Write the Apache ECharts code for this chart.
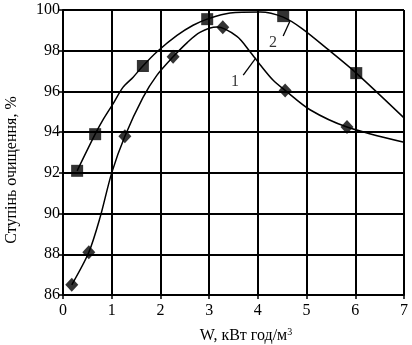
<!DOCTYPE html>
<html>
<head>
<meta charset="utf-8">
<script src="https://cdn.jsdelivr.net/npm/echarts@6/dist/echarts.min.js"></script>
<style>
  html, body { margin: 0; padding: 0; background: #fff; }
  #main { width: 412px; height: 345px; }
</style>
</head>
<body>
<div id="main"></div>
<script>
// measured points (W, %)
var s1_x = [0.18, 0.53, 1.27, 2.26, 3.28, 4.56, 5.83];
var s1_y = [86.5, 88.1, 93.8, 97.7, 99.15, 96.05, 94.25];
var s2_x = [0.29, 0.66, 1.64, 2.96, 4.52, 6.02];
var s2_y = [92.1, 93.9, 97.25, 99.55, 99.7, 96.9];

// fitted curves
var c1_x = [0.18, 0.53, 0.76, 1.0, 1.27, 1.64, 1.93, 2.26, 2.55, 2.81, 3.16, 3.57, 3.84, 4.05, 4.31, 4.56, 5.07, 5.83, 7.0];
var c1_y = [86.5, 88.1, 89.8, 92.0, 93.8, 95.7, 96.8, 97.7, 98.4, 98.9, 99.16, 98.7, 97.95, 97.3, 96.56, 96.05, 95.1, 94.25, 93.5];
var c2_x = [0.29, 0.66, 0.82, 1.03, 1.23, 1.44, 1.64, 1.93, 2.34, 2.67, 2.96, 3.43, 4.05, 4.52, 4.9, 5.42, 6.02, 7.0];
var c2_y = [92.1, 93.9, 94.6, 95.4, 96.2, 96.7, 97.25, 97.95, 98.75, 99.25, 99.55, 99.85, 99.9, 99.65, 99.1, 98.1, 96.9, 94.7];

var xTicks = [0, 1, 2, 3, 4, 5, 6, 7];
var yTicks = [86, 88, 90, 92, 94, 96, 98, 100];

// curve labels and their leader lines
var lab1 = { text: '1', at: [3.53, 96.45], from: [3.70, 96.8], to: [3.96, 97.65] };
var lab2 = { text: '2', at: [4.31, 98.4], from: [4.52, 98.72], to: [4.66, 99.46] };

function zip(xs, ys) {
    var out = [];
    for (var i = 0; i < xs.length; i++) out.push([xs[i], ys[i]]);
    return out;
}

var font = 'Liberation Serif';
var chart = echarts.init(document.getElementById('main'));

function leader(l) {
    return {
        type: 'line',
        data: [l.from, l.to],
        symbol: 'none',
        silent: true,
        lineStyle: { color: '#000', width: 1.3 },
        z: 3
    };
}
function labelMark(l) {
    return {
        type: 'scatter',
        data: [l.at],
        symbolSize: 0,
        silent: true,
        label: {
            show: true, position: 'inside', formatter: l.text,
            color: '#000', fontFamily: font, fontSize: 16
        }
    };
}

var option = {
    animation: false,
    backgroundColor: '#fff',
    grid: { left: 63, right: 8, top: 10, bottom: 50 },
    xAxis: {
        type: 'value', min: xTicks[0], max: xTicks[xTicks.length - 1], interval: 1,
        axisLine: { show: true, onZero: false, lineStyle: { color: '#000', width: 2 } },
        axisTick: { show: true, length: 4, lineStyle: { color: '#000', width: 1.5 } },
        splitLine: { show: true, lineStyle: { color: '#000', width: 2 } },
        axisLabel: { color: '#000', fontFamily: font, fontSize: 16, margin: 8 }
    },
    yAxis: {
        type: 'value', min: yTicks[0], max: yTicks[yTicks.length - 1], interval: 2,
        axisLine: { show: true, onZero: false, lineStyle: { color: '#000', width: 2 } },
        axisTick: { show: true, length: 4, lineStyle: { color: '#000', width: 1.5 } },
        splitLine: { show: true, lineStyle: { color: '#000', width: 2 } },
        axisLabel: { color: '#000', fontFamily: font, fontSize: 16, margin: 3 }
    },
    graphic: [
        {
            type: 'text', x: 12, y: 170, rotation: Math.PI / 2,
            style: {
                text: 'Ступінь очищення, %', fill: '#000',
                font: '16px "Liberation Serif"', align: 'center', verticalAlign: 'middle'
            }
        },
        {
            type: 'text', x: 246, y: 336,
            style: {
                text: 'W, кВт год/м{s|3}', fill: '#000',
                font: '16px "Liberation Serif"', align: 'center', verticalAlign: 'middle',
                rich: { s: { fontSize: 10, fontFamily: font, verticalAlign: 'top', padding: [0, 0, 8, 0] } }
            }
        }
    ],
    series: [
        {
            type: 'line', data: zip(c1_x, c1_y), smooth: 0.3, symbol: 'none',
            lineStyle: { color: '#000', width: 1.5 }, z: 3
        },
        {
            type: 'line', data: zip(c2_x, c2_y), smooth: 0.3, symbol: 'none',
            lineStyle: { color: '#000', width: 1.5 }, z: 3
        },
        {
            type: 'scatter', data: zip(s1_x, s1_y), symbol: 'diamond', symbolSize: [13, 14],
            itemStyle: { color: '#000' }, z: 4
        },
        {
            type: 'scatter', data: zip(s2_x, s2_y), symbol: 'rect', symbolSize: 12,
            itemStyle: { color: '#000' }, z: 4
        },
        leader(lab1), leader(lab2), labelMark(lab1), labelMark(lab2)
    ]
};
chart.setOption(option);
</script>
</body>
</html>
